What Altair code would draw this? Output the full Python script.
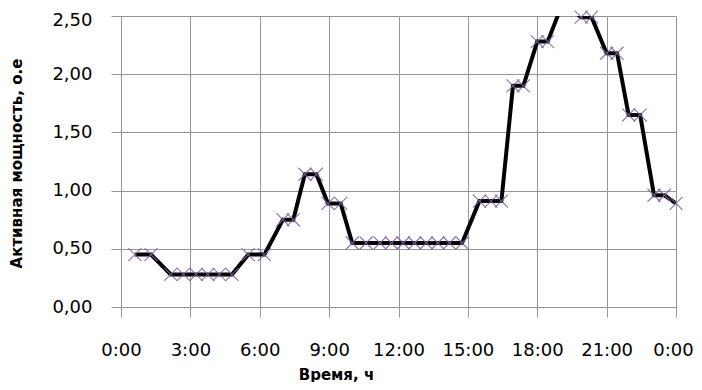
import altair as alt
import pandas as pd

hours = [0.6, 1.3, 2.15, 2.7, 3.25, 3.75, 4.25, 4.8, 5.5, 6.2,
         7.0, 7.45, 7.95, 8.45, 8.95, 9.5,
         10.0, 10.6, 11.2, 11.7, 12.2, 12.7, 13.2, 13.7, 14.2, 14.75,
         15.5, 16.0, 16.45, 16.95, 17.4, 18.0, 18.45, 19.0, 19.45,
         19.9, 20.35, 21.0, 21.45, 21.95, 22.45, 23.05, 23.5, 24.0]
power = [0.45, 0.45, 0.28, 0.28, 0.28, 0.28, 0.28, 0.28, 0.45, 0.45,
         0.75, 0.75, 1.14, 1.14, 0.89, 0.89,
         0.55, 0.55, 0.55, 0.55, 0.55, 0.55, 0.55, 0.55, 0.55, 0.55,
         0.91, 0.91, 0.91, 1.90, 1.90, 2.28, 2.28, 2.56, 2.56,
         2.49, 2.49, 2.18, 2.18, 1.65, 1.65, 0.96, 0.96, 0.89]
x_ticks = [0, 3, 6, 9, 12, 15, 18, 21, 24]
y_ticks = [0, 0.5, 1.0, 1.5, 2.0, 2.5]

df = pd.DataFrame({"hour": hours, "power": power})

GRID = "#969696"
FONT = "DejaVu Sans"

x_enc = alt.X(
    "hour:Q",
    scale=alt.Scale(domain=[0, 24], nice=False, zero=False),
    axis=alt.Axis(
        values=x_ticks,
        labelExpr="(datum.value % 24) + ':00'",
        labelOverlap=False, labelFlush=False,
        labelOffset={"condition": {"test": "datum.value >= 24", "value": -3}, "value": 0},
        title="Время, ч",
        grid=True, gridColor=GRID, gridWidth=1,
        domainColor=GRID, tickColor=GRID, tickSize=10,
        labelPadding=24, labelFont=FONT, labelFontSize=18, labelColor="black",
        titleFont=FONT, titleFontSize=15, titleFontWeight="bold", titleColor="black",
        titleX=215, titleY=67, titleAnchor="middle", titleAlign="center", titleBaseline="middle",
    ),
)
y_enc = alt.Y(
    "power:Q",
    scale=alt.Scale(domain=[0, 2.5], nice=False),
    axis=alt.Axis(
        values=y_ticks,
        labelExpr="replace(format(datum.value, '.2f'), '.', ',')",
        labelOffset={"condition": {"test": "datum.value >= 2.5", "value": 4}, "value": 0},
        labelFlush=False,
        title="Активная мощность, о.е",
        grid=True, gridColor=GRID, gridWidth=1,
        domainColor=GRID, tickColor=GRID, tickSize=10,
        labelPadding=19, labelFont=FONT, labelFontSize=18, labelColor="black",
        titleFont=FONT, titleFontSize=15, titleFontWeight="bold", titleColor="black",
        titleX=-105, titleY=147, titleAngle=270, titleAlign="center", titleBaseline="middle",
    ),
)

line = alt.Chart(df).mark_line(color="black", strokeWidth=4, clip=True).encode(x=x_enc, y=y_enc)
pts = alt.Chart(df).transform_filter("datum.power <= 2.5").mark_point(
    shape="M-1,-1L1,1M-1,1L1,-1", size=170, color="#8064A2", strokeWidth=1.2,
    filled=False, opacity=0.85
).encode(x="hour:Q", y="power:Q")

chart = (line + pts).properties(
    width=555, height=291,
    autosize=alt.AutoSizeParams(type="none"),
    padding={"left": 113, "top": 8, "right": 18, "bottom": 75},
).configure_view(stroke=None)

chart.save("out.html", embed_options={"renderer": "svg", "actions": False})
